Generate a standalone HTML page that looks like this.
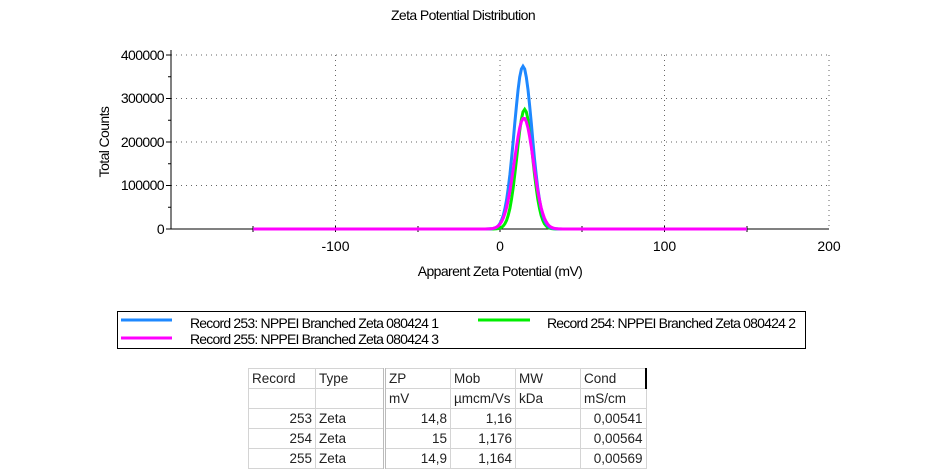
<!DOCTYPE html>
<html><head><meta charset="utf-8"><style>
body{margin:0;background:#fff;width:925px;height:474px;overflow:hidden;position:relative;font-family:"Liberation Sans",Arial,sans-serif}
table{position:absolute;left:248px;top:368px;border-collapse:collapse;font-family:"Liberation Sans",sans-serif;font-size:13.5px;color:#222}
td{height:19px;padding:0 3px;border:1px solid #d4d4d4;white-space:nowrap}
.r{text-align:right}
</style></head><body>
<svg width="925" height="474" style="position:absolute;left:0;top:0" font-family="Liberation Sans, Arial, sans-serif">
<text x="463" y="20" font-size="14" text-anchor="middle" letter-spacing="-0.6">Zeta Potential Distribution</text>
<g stroke="#666" stroke-dasharray="1,4" stroke-width="1">
<line x1="171" y1="55" x2="829" y2="55"/><line x1="171" y1="98.5" x2="829" y2="98.5"/>
<line x1="171" y1="142" x2="829" y2="142"/><line x1="171" y1="185.5" x2="829" y2="185.5"/>
<line x1="335.5" y1="55" x2="335.5" y2="229"/><line x1="500" y1="55" x2="500" y2="229"/>
<line x1="664.5" y1="55" x2="664.5" y2="229"/><line x1="829" y1="55" x2="829" y2="229"/>
</g>
<g stroke="#000" stroke-width="1">
<line x1="171" y1="50" x2="171" y2="229"/><line x1="166" y1="229" x2="829" y2="229"/>
<line x1="166" y1="55" x2="171" y2="55"/><line x1="166" y1="98.5" x2="171" y2="98.5"/><line x1="166" y1="142" x2="171" y2="142"/><line x1="166" y1="185.5" x2="171" y2="185.5"/>
<line x1="168" y1="76.75" x2="171" y2="76.75"/><line x1="168" y1="120.25" x2="171" y2="120.25"/><line x1="168" y1="163.75" x2="171" y2="163.75"/><line x1="168" y1="207.25" x2="171" y2="207.25"/>
<line x1="253" y1="226" x2="253" y2="232"/><line x1="335.5" y1="226" x2="335.5" y2="232"/><line x1="418" y1="226" x2="418" y2="232"/><line x1="500" y1="226" x2="500" y2="232"/><line x1="582" y1="226" x2="582" y2="232"/><line x1="664.5" y1="226" x2="664.5" y2="232"/><line x1="747" y1="226" x2="747" y2="232"/>
</g>
<g font-size="14" text-anchor="end" letter-spacing="-0.6">
<text x="164" y="60">400000</text><text x="164" y="103">300000</text><text x="164" y="147">200000</text><text x="164" y="190">100000</text><text x="164" y="234">0</text>
</g>
<g font-size="14" text-anchor="middle">
<text x="335.5" y="251">-100</text><text x="500" y="251">0</text><text x="664.5" y="251">100</text><text x="829" y="251">200</text>
</g>
<text x="500" y="276" font-size="14" text-anchor="middle" letter-spacing="-0.6">Apparent Zeta Potential (mV)</text>
<text transform="translate(109,142) rotate(-90)" font-size="14" text-anchor="middle" letter-spacing="-0.6">Total Counts</text>
<path id="g" fill="none" stroke="#00ee00" stroke-width="3"/>
<path id="b" fill="none" stroke="#1e88ff" stroke-width="3"/>
<path id="m" fill="none" stroke="#ff00ff" stroke-width="3"/>
<rect x="117.5" y="311.5" width="688" height="37" fill="none" stroke="#000"/>
<line x1="121" y1="320" x2="172" y2="320" stroke="#1e88ff" stroke-width="3"/>
<line x1="121" y1="338" x2="172" y2="338" stroke="#ff00ff" stroke-width="3"/>
<line x1="478" y1="320" x2="530" y2="320" stroke="#00ee00" stroke-width="3"/>
<g font-size="14" letter-spacing="-0.8">
<text x="190" y="328">Record 253: NPPEI Branched Zeta 080424 1</text>
<text x="190" y="344">Record 255: NPPEI Branched Zeta 080424 3</text>
<text x="547" y="328">Record 254: NPPEI Branched Zeta 080424 2</text>
</g>
</svg>
<table>
<tr><td style="width:60px">Record</td><td style="width:61px;border-right:3px double #bbb">Type</td><td style="width:58px">ZP</td><td style="width:58px">Mob</td><td style="width:58px">MW</td><td style="width:58px;border-right:2px solid #000">Cond</td></tr>
<tr><td></td><td style="border-right:3px double #bbb"></td><td>mV</td><td>µmcm/Vs</td><td>kDa</td><td>mS/cm</td></tr>
<tr><td class="r">253</td><td style="border-right:3px double #bbb">Zeta</td><td class="r">14,8</td><td class="r">1,16</td><td></td><td class="r">0,00541</td></tr>
<tr><td class="r">254</td><td style="border-right:3px double #bbb">Zeta</td><td class="r">15</td><td class="r">1,176</td><td></td><td class="r">0,00564</td></tr>
<tr><td class="r">255</td><td style="border-right:3px double #bbb">Zeta</td><td class="r">14,9</td><td class="r">1,164</td><td></td><td class="r">0,00569</td></tr>
</table>
<script>
function mk(id,A,c,s){var d="";for(var v=-150;v<=150;v+=1){var y=A*Math.exp(-Math.pow(v-c,2)/(2*s*s));var px=500+v*1.645,py=229-y*0.000435;d+=(d?"L":"M")+px.toFixed(1)+","+py.toFixed(1);}document.getElementById(id).setAttribute("d",d);}
mk("g",275000,15,4.8);mk("b",374000,14,5.4);mk("m",255000,14.5,5.8);
</script>
</body></html>
